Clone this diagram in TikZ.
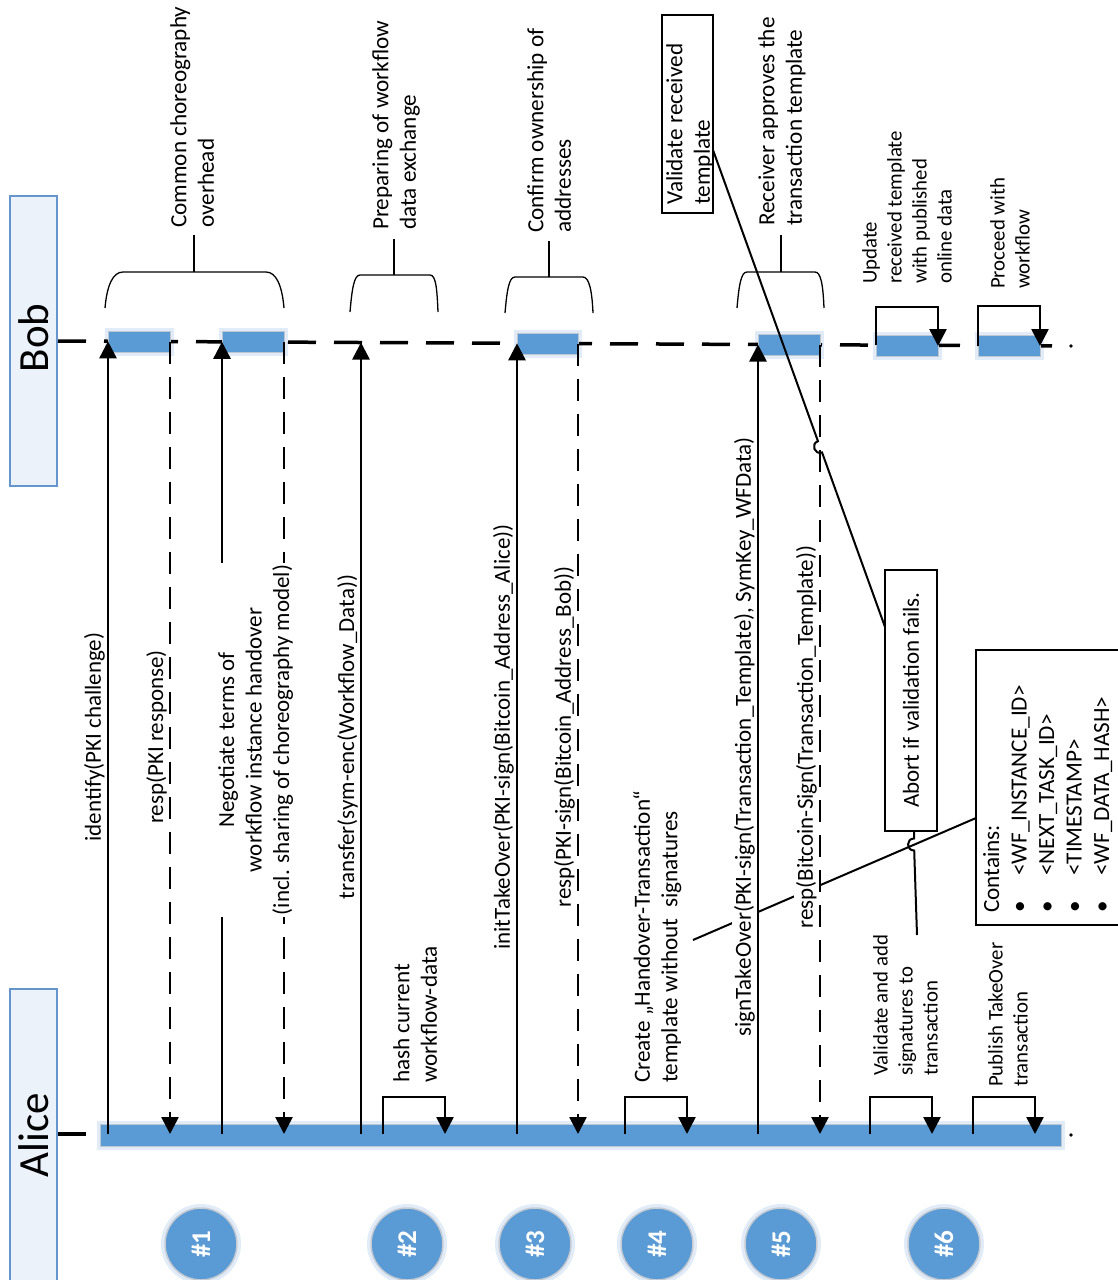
\documentclass[tikz,border=0pt]{standalone}
\usepackage{fontspec}
\setmainfont{Carlito}
\usetikzlibrary{arrows.meta}
\definecolor{actblue}{RGB}{91,155,213}
\definecolor{partedge}{RGB}{100,150,205}
\definecolor{partfill}{RGB}{236,242,250}
\definecolor{baredge}{RGB}{190,198,208}
\definecolor{ringgray}{RGB}{200,205,212}
\definecolor{haze}{RGB}{226,236,248}

\begin{document}
\begin{tikzpicture}[x=1pt,y=-1pt,
  every node/.style={inner sep=0pt},
  lbl/.style={rotate=90, font=\fontsize{23.2}{27.5}\selectfont, align=left, anchor=north west},
  smalllbl/.style={rotate=90, font=\fontsize{20.8}{25}\selectfont, align=left, anchor=north west},
  msglbl/.style={rotate=90, font=\fontsize{23}{27.5}\selectfont, fill=white, inner ysep=2pt, inner xsep=1pt, anchor=south},
  participant/.style={draw=partedge, fill=partfill, line width=1.5pt},
  partname/.style={rotate=90, font=\fontsize{43}{43}\selectfont, anchor=base},
  lifeline/.style={line width=3.5pt, dash pattern=on 28pt off 18pt},
  call/.style={line width=2.6pt, -{Triangle[length=17pt,width=17pt]}},
  reply/.style={call, dash pattern=on 22pt off 13pt},
  actbar/.style={fill=actblue, draw=baredge, line width=1pt},
  barhalo/.style={draw=haze, line width=7pt},
  brace/.style={line width=1.3pt},
  notebox/.style={draw, line width=1.3pt, fill=white},
  conn/.style={line width=2pt},
  stepcirc/.style={circle, fill=actblue, draw=ringgray, line width=1.5pt, minimum size=72pt},
  steptext/.style={rotate=90, font=\fontsize{27}{27}\selectfont\bfseries, text=white}
]
\useasboundingbox (0,0) rectangle (1117,1280);
\fill[white] (0,0) rectangle (1117,1280);

% participants
\draw[participant] (10,196) rectangle (57,486);
\draw[participant] (10,989) rectangle (57,1295);
\node[partname] (bobname) at (48,338) {Bob};
\node[partname] (alicename) at (48,1135) {Alice};

% soft halos behind the activation bars
\foreach \xa/\ya/\xb/\yb in {108/331/170/352, 222/331.5/284/352.5, 517/333/578/354,
    758/334/820/355, 876/335/938/356, 978/335.5/1040/356.5, 100/1124/1061/1146}
  \draw[barhalo] (\xa,\ya) rectangle (\xb,\yb);

% lifelines
\draw[lifeline] (58,341) -- (1062,346);
\fill (1071,346) circle (1.8);
\draw[line width=3.5pt] (58,1134) -- (86,1134);
\draw[actbar] (100,1124) rectangle (1061,1146);
\fill (1071,1135) circle (1.8);

% activations on Bob
\draw[actbar] (108,331) rectangle (170,352);
\draw[actbar] (222,331.5) rectangle (284,352.5);
\draw[actbar] (517,333) rectangle (578,354);
\draw[actbar] (758,334) rectangle (820,355);
\draw[actbar] (876,335) rectangle (938,356);
\draw[actbar] (978,335.5) rectangle (1040,356.5);

% message end points
\coordinate (a1) at (108,1134); \coordinate (b1) at (108,341.3);
\coordinate (b2) at (170,341.6); \coordinate (a2) at (170,1134);
\coordinate (a3) at (222,1134); \coordinate (b3) at (222,341.8);
\coordinate (b4) at (284,342.1); \coordinate (a4) at (284,1134);
\coordinate (a5) at (361,1134); \coordinate (b5) at (361,342.5);
\coordinate (a6) at (517,1134); \coordinate (b6) at (517,343.3);
\coordinate (b7) at (578,343.6); \coordinate (a7) at (578,1134);
\coordinate (a8) at (758,1134); \coordinate (b8) at (758,344.5);
\coordinate (b9) at (820,344.8); \coordinate (a9) at (820,1134);

\draw[call]  (a1) -- (b1);
\draw[reply] (b2) -- (a2);
\draw[call]  (a3) -- (b3);
\draw[reply] (b4) -- (a4);
\draw[call]  (a5) -- (b5);
\draw[call]  (a6) -- (b6);
\draw[reply] (b7) -- (a7);
\draw[call]  (a8) -- (b8);
\draw[reply] (b9) -- (a9);

% self calls
\draw[call] (383,1134) -- (383,1097) -- (445,1097) -- (445,1134);
\draw[call] (625,1134) -- (625,1097) -- (687,1097) -- (687,1134);
\draw[call] (870,1134) -- (870,1097) -- (932,1097) -- (932,1134);
\draw[call] (973,1134) -- (973,1097) -- (1035,1097) -- (1035,1134);
\draw[call] (876,345) -- (876,307) -- (938,307) -- (938,346);
\draw[call] (978,345.5) -- (978,306) -- (1040,306) -- (1040,346);

% note boxes
\draw[notebox] (662,15) rectangle (713,213);
\node[lbl] (valtxt) at (666,205) {Validate received\\template};
\draw[notebox] (885,570) rectangle (937,831);
\node[rotate=90, font=\fontsize{23}{27.5}\selectfont] (aborttxt) at (911,700) {Abort if validation fails.};
\draw[notebox] (976,650) rectangle (1135,925);
\node[lbl] (conttxt) at (983,913) {Contains:\\
  \makebox[37pt][l]{\textbullet}<WF\_INSTANCE\_ID>\\
  \makebox[37pt][l]{\textbullet}<NEXT\_TASK\_ID>\\
  \makebox[37pt][l]{\textbullet}<TIMESTAMP>\\
  \makebox[37pt][l]{\textbullet}<WF\_DATA\_HASH>};

% note connectors
\coordinate (contin) at (976,818);
\coordinate (createend) at (693,940);
\draw[conn] (contin) -- (createend);
\coordinate (valout) at (713,150);
\coordinate (abortin) at (885,627);
\draw[conn] (valout) -- (817.96,441.16) .. controls (810.4,443.9) and (814.5,455.1) .. (822.04,452.44) -- (abortin);
\coordinate (abortout) at (914,831);
\coordinate (addin) at (917,935);
\draw[conn] (abortout) -- (914,838.5) .. controls (906,838.5) and (906,850.5) .. (914.2,850.5) -- (addin);

% message labels
\node[msglbl] (l1) at (107,737) {identify(PKI challenge)};
\node[msglbl] (l2) at (169,737) {resp(PKI response)};
\node[rotate=90, font=\fontsize{23}{27.5}\selectfont, align=center, fill=white, inner ysep=3pt, inner xsep=2pt, anchor=north] (l3) at (215,740)
  {Negotiate terms of\\workflow instance handover\\(incl. sharing of choreography model)};
\node[msglbl] (l5) at (360,737) {transfer(sym-enc(Workflow\_Data))};
\node[msglbl] (l6) at (516,737) {initTakeOver(PKI-sign(Bitcoin\_Address\_Alice))};
\node[msglbl] (l7) at (577,737) {resp(PKI-sign(Bitcoin\_Address\_Bob))};
\node[msglbl] (l8) at (757,737) {signTakeOver(PKI-sign(Transaction\_Template), SymKey\_WFData)};
\node[msglbl] (l9) at (819,737) {resp(Bitcoin-Sign(Transaction\_Template))};

% self call labels
\node[lbl] (hashtxt) at (393,1083) {hash current\\workflow-data};
\node[lbl] (createtxt) at (633,1083) {Create „Handover-Transaction“\\template without\ \ signatures};
\node[smalllbl] (addtxt) at (873,1076) {Validate and add\\signatures to\\transaction};
\node[smalllbl] (pubtxt) at (988,1087) {Publish TakeOver\\transaction};
\node[smalllbl] (updtxt) at (862,284) {Update\\received template\\with published\\online data};
\node[smalllbl] (proctxt) at (990,289) {Proceed with\\workflow};

% braces grouping Bob's activations
\draw[brace] (105,308) .. controls (107,285) and (113,272) .. (123,272) -- (266,272) .. controls (276,272) and (282,285) .. (284,308);
\draw[brace] (194,272) -- (194,235);
\node[lbl] (br1) at (170,228) {Common choreography\\overhead};
\draw[brace] (350,312) .. controls (352,289) and (354,275) .. (360,275) -- (430,275) .. controls (436,275) and (437,289) .. (438,312);
\draw[brace] (394,275) -- (394,239);
\node[lbl] (br2) at (372,230) {Preparing of workflow\\data exchange};
\draw[brace] (505,313) .. controls (507,290) and (509,277) .. (515,277) -- (583,277) .. controls (589,277) and (592,290) .. (593,313);
\draw[brace] (549,277) -- (549,241);
\node[lbl] (br3) at (527,233) {Confirm ownership of\\addresses};
\draw[brace] (737,308) .. controls (739,285) and (741,272) .. (747,272) -- (815,272) .. controls (821,272) and (823,285) .. (824,308);
\draw[brace] (781,272) -- (781,235);
\node[lbl] (br5) at (758,226) {Receiver approves the\\transaction template};

% phase markers
\foreach \n/\x in {1/201,2/407,3/535,4/657,5/781,6/944}{
  \fill[haze] (\x,1244) circle (40);
  \node[stepcirc] (ph\n) at (\x,1244) {};
  \node[steptext] at (ph\n) {\#\n};
}
\end{tikzpicture}
\end{document}
